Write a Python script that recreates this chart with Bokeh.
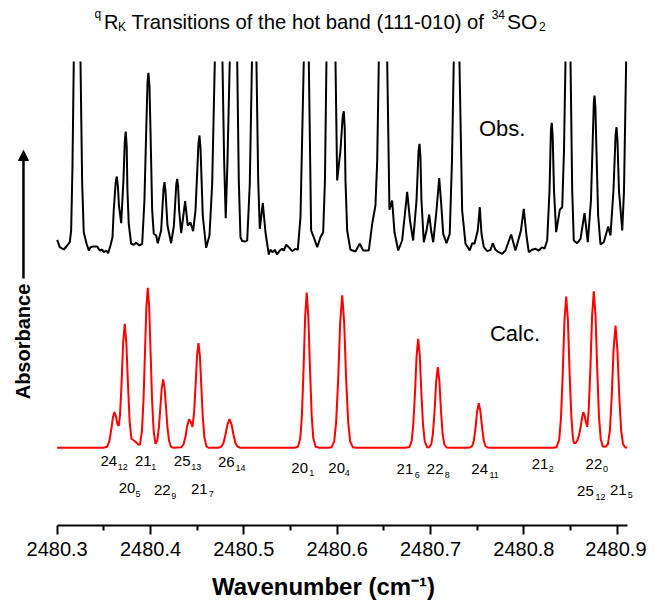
from bokeh.plotting import figure
from bokeh.models import Range1d, FixedTicker, NumeralTickFormatter, Label, Arrow, NormalHead
from bokeh.embed import file_html
from bokeh.resources import INLINE

NAN = float("nan")   # observed trace off-scale (above the plotted window)

# ---------------- data ----------------
# observed spectrum: (wavenumber / cm-1, absorbance, arbitrary units, baseline ~ 0)
obs_points = [
    (2480.3000, 0.087), (2480.3028, 0.013), (2480.3071, -0.010), (2480.3107, 0.030), (2480.3135, 0.063),
    (2480.3150, 0.18), (2480.3164, 0.813), (2480.3178, 1.87), (2480.3214, NAN), (2480.3250, 1.87),
    (2480.3268, 0.65), (2480.3285, 0.163), (2480.3314, 0.053), (2480.3339, -0.02), (2480.3357, 0.013),
    (2480.3386, 0.02), (2480.3429, 0.02), (2480.3456, -0.02), (2480.3482, -0.01), (2480.3499, -0.037),
    (2480.3525, -0.02), (2480.3546, -0.047), (2480.3571, 0.03), (2480.3593, 0.113), (2480.3606, 0.38),
    (2480.3627, 0.66), (2480.3639, 0.72), (2480.3651, 0.62), (2480.3662, 0.43), (2480.3686, 0.253),
    (2480.3710, 0.68), (2480.3725, 1.08), (2480.3735, 1.17), (2480.3745, 1.02), (2480.3753, 0.58),
    (2480.3767, 0.247), (2480.3793, 0.047), (2480.3821, 0.037), (2480.3846, 0.057),
    (2480.3882, 0.03), (2480.3911, 0.047), (2480.3935, 0.48), (2480.3957, 1.28), (2480.3968, 1.66),
    (2480.3978, 1.757), (2480.3989, 1.62), (2480.4000, 1.18), (2480.4018, 0.38), (2480.4035, 0.147),
    (2480.4061, 0.13), (2480.4078, 0.053), (2480.4114, 0.18), (2480.4140, 0.60), (2480.4150, 0.663),
    (2480.4160, 0.58), (2480.4182, 0.23), (2480.4221, 0.053), (2480.4251, 0.23), (2480.4276, 0.64),
    (2480.4286, 0.697), (2480.4296, 0.62), (2480.4307, 0.38), (2480.4329, 0.153), (2480.4371, 0.473),
    (2480.4399, 0.23), (2480.4428, 0.26), (2480.4457, 0.173), (2480.4482, 0.38), (2480.4514, 1.05),
    (2480.4525, 1.13), (2480.4536, 1.00), (2480.4560, 0.33), (2480.4596, 0.007), (2480.4632, 0.13),
    (2480.4661, 0.65), (2480.4689, 1.87), (2480.4728, NAN), (2480.4771, 1.87), (2480.4789, 0.88),
    (2480.4806, 0.303), (2480.4825, 0.88), (2480.4849, 1.87), (2480.4889, NAN), (2480.4929, 1.87),
    (2480.4946, 0.68), (2480.4964, 0.113), (2480.4982, 0.075), (2480.5018, 0.07), (2480.5036, 0.08),
    (2480.5064, 0.65), (2480.5087, 1.87), (2480.5112, NAN), (2480.5135, 1.87), (2480.5154, 0.68),
    (2480.5171, 0.197), (2480.5203, 0.453), (2480.5232, 0.16), (2480.5267, -0.06), (2480.5285, -0.013),
    (2480.5310, -0.037), (2480.5331, -0.013), (2480.5357, -0.06), (2480.5385, -0.02), (2480.5411, -0.003),
    (2480.5428, -0.02), (2480.5454, 0.037), (2480.5481, 0.013), (2480.5518, -0.027), (2480.5553, -0.003),
    (2480.5578, -0.013), (2480.5607, 0.313), (2480.5642, 1.87), (2480.5669, NAN), (2480.5696, 1.87),
    (2480.5721, 0.18), (2480.5749, 0.113), (2480.5786, 0.013), (2480.5821, 0.113), (2480.5850, 0.163),
    (2480.5869, 0.68), (2480.5885, 1.87), (2480.5934, NAN), (2480.5982, 1.87), (2480.6000, 0.68),
    (2480.6035, 0.98), (2480.6060, 1.33), (2480.6071, 1.373), (2480.6081, 1.20), (2480.6089, 0.68),
    (2480.6107, 0.18), (2480.6142, -0.013), (2480.6196, -0.03), (2480.6242, 0.047), (2480.6279, -0.02),
    (2480.6339, -0.02), (2480.6375, 0.247), (2480.6410, 0.43), (2480.6429, 0.88), (2480.6446, 1.87),
    (2480.6491, NAN), (2480.6536, 1.87), (2480.6560, 0.387), (2480.6589, 0.48), (2480.6614, 0.163),
    (2480.6654, -0.02), (2480.6696, 0.08), (2480.6724, 0.33), (2480.6750, 0.567), (2480.6780, 0.28),
    (2480.6814, 0.08), (2480.6850, 0.48), (2480.6872, 0.98), (2480.6882, 1.047), (2480.6892, 0.92),
    (2480.6903, 0.48), (2480.6928, 0.063), (2480.6957, 0.18), (2480.6986, 0.34), (2480.7008, 0.17),
    (2480.7029, 0.063), (2480.7064, 0.38), (2480.7093, 0.703), (2480.7112, 0.48), (2480.7136, 0.147),
    (2480.7171, 0.053), (2480.7206, 0.147), (2480.7230, 0.88), (2480.7249, 1.87), (2480.7280, NAN),
    (2480.7310, 1.87), (2480.7339, 0.38), (2480.7375, 0.047), (2480.7421, -0.02), (2480.7446, 0.053),
    (2480.7471, 0.047), (2480.7506, 0.18), (2480.7528, 0.413), (2480.7546, 0.15), (2480.7571, 0.013),
    (2480.7607, -0.027), (2480.7643, -0.013), (2480.7667, 0.053), (2480.7696, -0.013), (2480.7731, -0.037),
    (2480.7768, -0.053), (2480.7803, -0.02), (2480.7864, 0.14), (2480.7910, -0.02), (2480.7969, 0.18),
    (2480.7999, 0.397), (2480.8028, 0.13), (2480.8053, -0.037), (2480.8089, -0.013), (2480.8125, -0.003),
    (2480.8160, -0.02), (2480.8196, 0.013), (2480.8221, -0.003), (2480.8250, 0.08), (2480.8275, 0.58),
    (2480.8290, 1.18), (2480.8299, 1.257), (2480.8309, 1.12), (2480.8323, 0.58), (2480.8346, 0.163),
    (2480.8385, 0.387), (2480.8411, 0.413), (2480.8430, 0.98), (2480.8446, 1.87), (2480.8473, NAN),
    (2480.8500, 1.87), (2480.8518, 0.58), (2480.8535, 0.08), (2480.8571, 0.053), (2480.8607, 0.097),
    (2480.8650, 0.353), (2480.8685, 0.063), (2480.8719, 0.48), (2480.8741, 1.18), (2480.8750, 1.47),
    (2480.8757, 1.53), (2480.8766, 1.42), (2480.8778, 0.98), (2480.8796, 0.33), (2480.8821, 0.04),
    (2480.8856, 0.063), (2480.8904, 0.22), (2480.8928, 0.13), (2480.8960, 0.58), (2480.8983, 1.14),
    (2480.8993, 1.213), (2480.9003, 1.08), (2480.9019, 0.58), (2480.9054, 0.18), (2480.9073, 0.58),
    (2480.9096, 1.87),
]

# calculated spectrum: (wavenumber / cm-1, absorbance, arbitrary units, baseline 0)
calc_points = [
    (2480.3000, 0.0), (2480.3464, 0.0), (2480.3496, 0.0), (2480.3534, 0.01), (2480.3560, 0.069),
    (2480.3582, 0.197), (2480.3598, 0.307), (2480.3614, 0.357), (2480.3630, 0.315), (2480.3646, 0.234),
    (2480.3660, 0.22), (2480.3673, 0.322), (2480.3689, 0.62), (2480.3707, 1.05), (2480.3724, 1.24),
    (2480.3741, 1.05), (2480.3760, 0.606), (2480.3777, 0.256), (2480.3796, 0.09), (2480.3818, 0.075),
    (2480.3839, 0.06), (2480.3866, 0.035), (2480.3887, 0.03), (2480.3908, 0.164), (2480.3925, 0.475),
    (2480.3941, 0.956), (2480.3956, 1.406), (2480.3971, 1.60), (2480.3986, 1.406), (2480.4001, 0.956),
    (2480.4017, 0.475), (2480.4034, 0.166), (2480.4053, 0.04), (2480.4073, 0.074), (2480.4090, 0.203),
    (2480.4106, 0.408), (2480.4121, 0.60), (2480.4136, 0.683), (2480.4151, 0.60), (2480.4166, 0.408),
    (2480.4182, 0.203), (2480.4199, 0.07), (2480.4219, 0.012), (2480.4246, 0.0), (2480.4332, 0.006),
    (2480.4353, 0.033), (2480.4375, 0.114), (2480.4395, 0.226), (2480.4414, 0.284), (2480.4433, 0.256),
    (2480.4450, 0.21), (2480.4467, 0.351), (2480.4484, 0.642), (2480.4499, 0.924), (2480.4514, 1.046),
    (2480.4529, 0.919), (2480.4544, 0.624), (2480.4560, 0.311), (2480.4577, 0.107), (2480.4598, 0.019),
    (2480.4621, 0.0), (2480.4728, 0.0), (2480.4760, 0.012), (2480.4782, 0.048), (2480.4803, 0.13),
    (2480.4825, 0.235), (2480.4846, 0.286), (2480.4868, 0.235), (2480.4889, 0.13), (2480.4910, 0.048),
    (2480.4932, 0.012), (2480.4964, 0.0), (2480.5543, 0.0), (2480.5580, 0.01), (2480.5605, 0.097),
    (2480.5622, 0.321), (2480.5639, 0.76), (2480.5657, 1.312), (2480.5674, 1.553), (2480.5691, 1.312),
    (2480.5710, 0.76), (2480.5727, 0.321), (2480.5744, 0.097), (2480.5769, 0.01), (2480.5810, 0.0),
    (2480.5907, 0.0), (2480.5939, 0.005), (2480.5968, 0.064), (2480.5989, 0.256), (2480.6011, 0.691),
    (2480.6032, 1.251), (2480.6054, 1.526), (2480.6075, 1.251), (2480.6096, 0.691), (2480.6118, 0.256),
    (2480.6139, 0.064), (2480.6168, 0.005), (2480.6207, 0.0), (2480.6732, 0.0), (2480.6774, 0.007),
    (2480.6798, 0.068), (2480.6815, 0.226), (2480.6833, 0.533), (2480.6851, 0.921), (2480.6868, 1.09),
    (2480.6885, 0.921), (2480.6903, 0.533), (2480.6920, 0.226), (2480.6938, 0.068), (2480.6962, 0.007),
    (2480.6973, 0.004), (2480.6984, 0.005), (2480.7008, 0.035), (2480.7025, 0.136), (2480.7043, 0.36),
    (2480.7061, 0.667), (2480.7078, 0.806), (2480.7095, 0.667), (2480.7113, 0.36), (2480.7130, 0.136),
    (2480.7148, 0.035), (2480.7172, 0.003), (2480.7214, 0.0), (2480.7385, 0.0), (2480.7423, 0.003),
    (2480.7448, 0.02), (2480.7465, 0.075), (2480.7482, 0.199), (2480.7500, 0.369), (2480.7517, 0.446),
    (2480.7534, 0.369), (2480.7553, 0.199), (2480.7570, 0.075), (2480.7587, 0.02), (2480.7611, 0.003),
    (2480.7653, 0.0), (2480.8318, 0.0), (2480.8350, 0.006), (2480.8379, 0.082), (2480.8398, 0.303),
    (2480.8416, 0.73), (2480.8435, 1.274), (2480.8454, 1.513), (2480.8472, 1.274), (2480.8491, 0.73),
    (2480.8509, 0.304), (2480.8525, 0.11), (2480.8535, 0.05), (2480.8553, 0.045), (2480.8571, 0.07),
    (2480.8590, 0.12), (2480.8607, 0.20), (2480.8622, 0.29), (2480.8636, 0.356), (2480.8649, 0.33),
    (2480.8664, 0.26), (2480.8679, 0.21), (2480.8693, 0.345), (2480.8712, 0.767), (2480.8731, 1.318),
    (2480.8749, 1.566), (2480.8768, 1.318), (2480.8787, 0.756), (2480.8805, 0.313), (2480.8824, 0.085),
    (2480.8845, 0.014), (2480.8875, 0.01), (2480.8901, 0.038), (2480.8922, 0.177), (2480.8941, 0.503),
    (2480.8961, 0.979), (2480.8982, 1.223), (2480.9002, 0.979), (2480.9023, 0.503), (2480.9042, 0.177),
    (2480.9062, 0.038), (2480.9084, 0.006), (2480.9107, 0.0),
]

obs_wn = [w for w, a in obs_points]
obs_abs = [a for w, a in obs_points]
calc_wn = [w for w, a in calc_points]
calc_abs = [a for w, a in calc_points]

# assignment labels J_Ka  (main, subscript)
line_main = ["24", "21", "25", "26", "20", "20", "20", "22", "21",
             "21", "22", "24", "21", "22", "25", "21"]
line_sub = ["12", "1", "13", "14", "1", "4", "5", "9", "7",
            "6", "8", "11", "2", "0", "12", "5"]

x_ticks = [2480.3, 2480.4, 2480.5, 2480.6, 2480.7, 2480.8, 2480.9]
x_minor = [2480.35, 2480.45, 2480.55, 2480.65, 2480.75, 2480.85]
X_START, X_END = 2480.3, 2480.9107

# ---------------- layout / style ----------------
OBS_OFFSET = 2.77
CALC_OFFSET = 0.777
FONT = "Liberation Sans"

# label anchor positions (main x, sub x, main baseline y, sub baseline y)
label_pos = [
    (2480.3553, 2480.3703, 0.647, 0.587), (2480.3923, 2480.4035, 0.647, 0.587),
    (2480.4339, 2480.4490, 0.647, 0.587), (2480.4812, 2480.4964, 0.637, 0.580),
    (2480.5598, 2480.5728, 0.580, 0.525), (2480.5995, 2480.6107, 0.580, 0.525),
    (2480.3748, 2480.3866, 0.380, 0.320), (2480.4126, 2480.4248, 0.353, 0.293),
    (2480.4523, 2480.4651, 0.370, 0.313), (2480.6726, 2480.6857, 0.570, 0.510),
    (2480.7050, 2480.7179, 0.570, 0.510), (2480.7527, 2480.7682, 0.570, 0.510),
    (2480.8173, 2480.8294, 0.620, 0.565), (2480.8751, 2480.8875, 0.620, 0.565),
    (2480.8660, 2480.8821, 0.347, 0.287), (2480.9012, 2480.9140, 0.360, 0.303),
]

p = figure(width=646, height=605,
           x_range=Range1d(2480.2393, 2480.9314), y_range=Range1d(0, 5.25),
           output_backend="svg", toolbar_location=None, y_axis_location=None,
           min_border_left=0, min_border_right=0, min_border_top=0, min_border_bottom=80)
p.outline_line_color = None
p.xgrid.visible = False
p.ygrid.visible = False
p.background_fill_color = "white"
p.border_fill_color = "white"

p.line(obs_wn, [a + OBS_OFFSET for a in obs_abs], line_color="black", line_width=2)
p.line(calc_wn, [a + CALC_OFFSET for a in calc_abs], line_color="#ff0000", line_width=2)

ax = p.xaxis[0]
ax.bounds = (X_START, X_END)
ax.ticker = FixedTicker(ticks=x_ticks, minor_ticks=x_minor)
ax.formatter = NumeralTickFormatter(format="0.0")
ax.axis_line_width = 2
ax.axis_line_color = "black"
ax.major_tick_in = 0
ax.major_tick_out = 9
ax.minor_tick_in = 0
ax.minor_tick_out = 5
ax.major_tick_line_width = 2
ax.minor_tick_line_width = 2
ax.major_label_text_font = FONT
ax.major_label_text_font_size = "20px"
ax.major_label_text_color = "black"
ax.major_label_standoff = 7
ax.axis_label = "Wavenumber (cm\u207b\u00b9)"
ax.axis_label_text_font = FONT
ax.axis_label_text_font_size = "24px"
ax.axis_label_text_font_style = "bold"
ax.axis_label_text_color = "black"
ax.axis_label_standoff = 14


def add_text(x, y, text, size, align="center", bold=False, angle=0.0, baseline="alphabetic"):
    p.add_layout(Label(x=x, y=y, text=text, text_font=FONT, text_font_size=size,
                       text_align=align, text_baseline=baseline,
                       text_font_style="bold" if bold else "normal",
                       angle=angle, text_color="black"))


for (xm, xs, ym, ys), m, s in zip(label_pos, line_main, line_sub):
    add_text(xm, ym, m, "15px")
    add_text(xs, ys, s, "9px")

add_text(2480.7768, 3.97, "Obs.", "22px")
add_text(2480.7905, 1.92, "Calc.", "22px")

# title  qR_K Transitions of the hot band (111-010) of 34SO2
add_text(2480.3400, 5.12, "q", "12px", align="left")
add_text(2480.3501, 5.04, "R", "20px", align="left")
add_text(2480.3651, 4.99, "K", "12px", align="left")
add_text(2480.3796, 5.04, "Transitions of the hot band (111-010) of", "20.3px", align="left")
add_text(2480.7655, 5.11, "34", "12px", align="left")
add_text(2480.7819, 5.04, "SO", "21px", align="left")
add_text(2480.8162, 4.99, "2", "12px", align="left")

# y axis title with arrow
add_text(2480.2639, 1.84, "Absorbance", "20px", bold=True, angle=1.5707963, baseline="middle")
p.add_layout(Arrow(end=NormalHead(size=10, fill_color="black", line_color="black"),
                   x_start=2480.2639, y_start=2.47, x_end=2480.2639, y_end=3.75,
                   line_width=2.5, line_color="black"))

open("out.html", "w").write(file_html(p, INLINE))
